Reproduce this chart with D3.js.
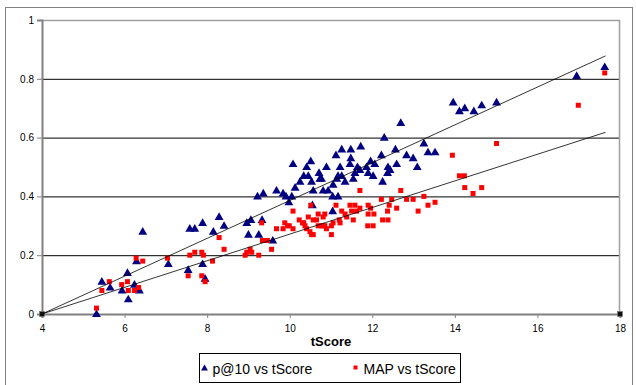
<!DOCTYPE html>
<html>
<head>
<meta charset="utf-8">
<script src="https://cdn.jsdelivr.net/npm/d3@7"></script>
<style>
  body { margin: 0; background: #fff; }
  svg { display: block; font-family: "Liberation Sans", Arial, sans-serif; }
</style>
</head>
<body>
<svg id="chart" width="636" height="385"></svg>
<script>
// p@10 vs tScore (triangles)
const p10Score = [5.32, 5.45, 5.65, 5.94, 6.07, 6.09, 6.24, 6.29, 6.36, 6.44, 7.06, 7.54, 7.89, 7.95,
  7.58, 7.70, 7.89, 8.15, 8.29, 8.41, 8.96, 9.00, 9.06, 9.25, 9.33, 9.59, 9.36, 9.22, 9.68, 9.84,
  9.91, 9.98, 10.05, 10.08, 10.13, 10.25, 10.34, 10.41, 10.45, 10.51, 10.53, 10.57, 10.71, 10.73,
  10.77, 10.81, 10.89, 10.93, 11.04, 11.05, 11.12, 11.14, 11.17, 11.17, 11.22, 11.26, 11.26, 11.34,
  11.46, 11.48, 11.48, 11.54, 11.58, 11.64, 11.70, 11.72, 11.86, 11.90, 11.96, 12.02, 12.06, 12.22,
  12.25, 12.29, 12.37, 12.38, 12.43, 12.56, 12.59, 12.69, 12.83, 12.99, 13.09, 13.25, 13.35, 13.52,
  10.55, 11.04, 13.96, 14.11, 14.24, 14.46, 14.65, 15.01, 16.95, 17.63];
const p10Value = [0.00, 0.11, 0.09, 0.08, 0.14, 0.05, 0.10, 0.18, 0.08, 0.28, 0.17, 0.15, 0.17, 0.12,
  0.29, 0.29, 0.31, 0.28, 0.33, 0.30, 0.31, 0.27, 0.32, 0.27, 0.32, 0.25, 0.41, 0.40, 0.42, 0.41,
  0.40, 0.38, 0.40, 0.51, 0.43, 0.45, 0.47, 0.50, 0.47, 0.52, 0.45, 0.42, 0.48, 0.46,
  0.46, 0.42, 0.50, 0.42, 0.40, 0.44, 0.54, 0.46, 0.47, 0.40, 0.50, 0.56, 0.47, 0.45,
  0.51, 0.56, 0.53, 0.46, 0.48, 0.50, 0.49, 0.57, 0.50, 0.48, 0.52, 0.47, 0.51, 0.54,
  0.45, 0.60, 0.48, 0.50, 0.49, 0.56, 0.51, 0.65, 0.54, 0.53, 0.50, 0.58, 0.55, 0.55,
  0.37, 0.35, 0.72, 0.69, 0.70, 0.69, 0.71, 0.72, 0.81, 0.84];

// MAP vs tScore (squares)
const mapScore = [5.32, 5.45, 5.63, 5.93, 6.07, 6.09, 6.24, 6.34, 6.28, 6.44, 7.04, 7.58, 7.70, 7.87,
  7.91, 7.54, 7.87, 7.95, 8.13, 8.29, 8.41, 8.92, 8.96, 9.04, 9.08, 9.25, 9.32, 9.34, 9.46, 9.56,
  9.68, 9.84, 9.88, 9.99, 10.08, 10.08, 10.23, 10.31, 10.34, 10.37, 10.41, 10.45, 10.49, 10.51,
  10.53, 10.57, 10.57, 10.65, 10.69, 10.77, 10.81, 10.81, 10.85, 10.89, 11.01, 11.01, 11.05, 11.12,
  11.20, 11.22, 11.26, 11.34, 11.38, 11.46, 11.50, 11.54, 11.58, 11.62, 11.70, 11.70, 11.89, 11.90,
  11.90, 11.96, 12.02, 12.04, 12.22, 12.25, 12.37, 12.38, 12.41, 12.47, 12.59, 12.69, 12.83, 12.99,
  13.11, 13.25, 13.35, 13.52, 13.94, 14.11, 14.23, 14.24, 14.44, 14.65, 15.01, 16.99, 17.63,
  10.85, 10.69, 9.95];
const mapValue = [0.02, 0.08, 0.11, 0.10, 0.11, 0.08, 0.08, 0.09, 0.19, 0.18, 0.19, 0.20, 0.21, 0.21,
  0.20, 0.13, 0.13, 0.11, 0.18, 0.26, 0.22, 0.20, 0.21, 0.22, 0.21, 0.20, 0.31, 0.25, 0.25, 0.22,
  0.29, 0.29, 0.31, 0.30, 0.29, 0.35, 0.32, 0.31, 0.31, 0.30, 0.29, 0.33, 0.28, 0.37,
  0.27, 0.32, 0.27, 0.32, 0.34, 0.30, 0.33, 0.30, 0.34, 0.29, 0.30, 0.27, 0.31, 0.37,
  0.32, 0.31, 0.35, 0.34, 0.33, 0.37, 0.35, 0.32, 0.37, 0.35, 0.36, 0.42, 0.30, 0.37,
  0.34, 0.36, 0.30, 0.34, 0.39, 0.32, 0.35, 0.32, 0.37, 0.39, 0.36, 0.42, 0.39, 0.39,
  0.35, 0.40, 0.37, 0.38, 0.54, 0.47, 0.47, 0.43, 0.41, 0.43, 0.58, 0.71, 0.82,
  0.30, 0.30, 0.30];

// linear trend lines
const trendX = [4, 17.65];
const p10Trend = [0, 0.878];
const mapTrend = [0, 0.618];

// small dark markers sitting on the x axis
const anchorX = [4, 18];

const xTicks = [4, 6, 8, 10, 12, 14, 16, 18];
const yTicks = [0, 0.2, 0.4, 0.6, 0.8, 1];

const svg = d3.select('#chart');
const margin = { top: 20, right: 16, bottom: 71, left: 42 };
const width = 636 - margin.left - margin.right;
const height = 385 - margin.top - margin.bottom;

// outer chart border
svg.append('rect')
  .attr('x', 5.5).attr('y', 7.5)
  .attr('width', 627).attr('height', 390)
  .attr('fill', 'none').attr('stroke', '#808080');

const g = svg.append('g').attr('transform', `translate(${margin.left},${margin.top})`);

const x = d3.scaleLinear().domain([4, 18]).range([0, width]);
const y = d3.scaleLinear().domain([0, 1]).range([height, 0]);

// Grid lines
g.append('g')
  .call(d3.axisLeft(y).tickValues(yTicks.slice(1, -1)).tickSize(-width).tickFormat(() => ''))
  .call(s => s.select('.domain').remove())
  .selectAll('line').attr('stroke', '#000').attr('stroke-width', 1);

// plot border top / right
g.append('path')
  .attr('d', `M0,0.5H${width - 0.5}V${height}`)
  .attr('fill', 'none').attr('stroke', '#a0a0a0').attr('stroke-width', 1.5);

// Y Axis
const yAxis = g.append('g')
  .call(d3.axisLeft(y).tickValues(yTicks).tickSize(5).tickPadding(3).tickFormat(d3.format('~g')));
yAxis.select('.domain').attr('stroke', '#808080').attr('stroke-width', 2);
yAxis.selectAll('line').attr('stroke', '#808080');
yAxis.selectAll('text').attr('font-size', 10).attr('fill', '#000')
  .attr('font-family', '"Liberation Sans", Arial, sans-serif');

// X Axis
const xAxis = g.append('g')
  .attr('transform', `translate(0,${height})`)
  .call(d3.axisBottom(x).tickValues(xTicks).tickSize(4).tickPadding(7));
xAxis.select('.domain').attr('stroke', '#808080').attr('stroke-width', 2);
xAxis.selectAll('line').attr('stroke', '#808080');
xAxis.selectAll('text').attr('font-size', 10).attr('fill', '#000')
  .attr('font-family', '"Liberation Sans", Arial, sans-serif');

g.append('text')
  .attr('x', width / 2).attr('y', height + 32)
  .attr('text-anchor', 'middle')
  .attr('font-size', 13).attr('font-weight', 'bold')
  .text('tScore');

const tri = d3.symbol().type(d3.symbolTriangle).size(34);

// p@10 triangles
g.selectAll('.p10')
  .data(p10Score.map((s, i) => [s, p10Value[i]]))
  .enter()
  .append('path')
  .attr('class', 'p10')
  .attr('d', tri)
  .attr('transform', d => `translate(${x(d[0])},${y(d[1]) + 0.5})`)
  .attr('fill', '#000080');

// MAP squares
g.selectAll('.map')
  .data(mapScore.map((s, i) => [s, mapValue[i]]))
  .enter()
  .append('rect')
  .attr('class', 'map')
  .attr('x', d => x(d[0]) - 2.5)
  .attr('y', d => y(d[1]) - 2.5)
  .attr('width', 5).attr('height', 5)
  .attr('fill', '#ff0000');

// anchor markers
g.selectAll('.anchor')
  .data(anchorX)
  .enter()
  .append('rect')
  .attr('x', d => x(d) - 2.5).attr('y', y(0) - 2.5)
  .attr('width', 5).attr('height', 5)
  .attr('fill', '#111').attr('stroke', '#777').attr('stroke-width', 0.6);

// trend lines
const line = d3.line().x(d => x(d[0])).y(d => y(d[1]));
[p10Trend, mapTrend].forEach(t => {
  g.append('path')
    .attr('d', line(trendX.map((v, i) => [v, t[i]])))
    .attr('fill', 'none').attr('stroke', '#000').attr('stroke-width', 0.8);
});

// Legend
const legend = svg.append('g').attr('transform', 'translate(199.5,353.5)');
legend.append('rect')
  .attr('width', 261).attr('height', 29)
  .attr('fill', '#fff').attr('stroke', '#000');
legend.append('path')
  .attr('d', d3.symbol().type(d3.symbolTriangle).size(20))
  .attr('transform', 'translate(5,15)')
  .attr('fill', '#000080');
legend.append('text')
  .attr('x', 13).attr('y', 20)
  .attr('font-size', 14)
  .text('p@10 vs tScore');
legend.append('rect')
  .attr('x', 154).attr('y', 12).attr('width', 4).attr('height', 4)
  .attr('fill', '#ff0000');
legend.append('text')
  .attr('x', 164).attr('y', 20)
  .attr('font-size', 14)
  .text('MAP vs tScore');
</script>
</body>
</html>
